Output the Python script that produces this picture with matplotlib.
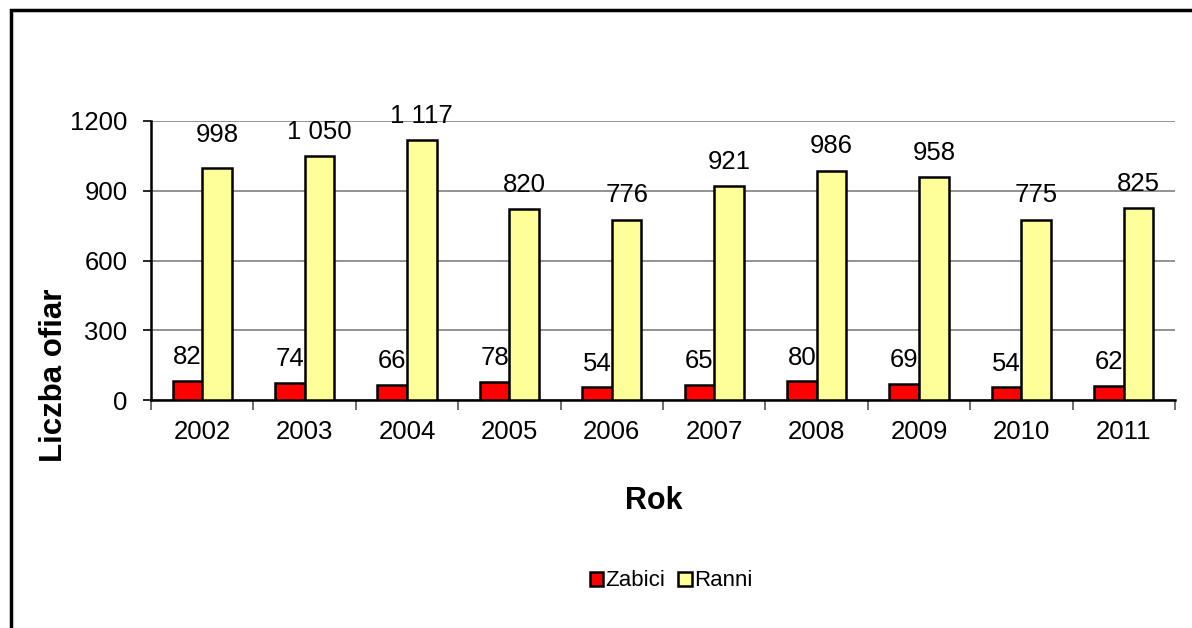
import matplotlib
matplotlib.use("Agg")
import matplotlib.pyplot as plt
import numpy as np
from matplotlib.patches import Rectangle

years = ["2002", "2003", "2004", "2005", "2006", "2007", "2008", "2009", "2010", "2011"]
zabici = [82, 74, 66, 78, 54, 65, 80, 69, 54, 62]
ranni = [998, 1050, 1117, 820, 776, 921, 986, 958, 775, 825]
ranni_labels = ["998", "1 050", "1 117", "820", "776", "921", "986", "958", "775", "825"]
yticks = [0, 300, 600, 900, 1200]

# label offsets in points (style); the first Ranni label sits a bit higher in the original
ranni_label_offsets = [18.5, 12.5, 12.5, 12.5, 12.5, 12.5, 12.5, 12.5, 12.5, 12.5]
zabici_label_offset = 12.0

plt.rcParams['font.family'] = ['Liberation Sans', 'DejaVu Sans']

W, H = 1192, 628
fig = plt.figure(figsize=(W / 100, H / 100), dpi=100)
ax = fig.add_axes([151 / W, 1 - 400 / H, (1175 - 151) / W, (400 - 121) / H])

FS = 18.5
x = np.arange(len(years))
bw = 0.29
ax.bar(x - bw / 2, zabici, bw, color="#ff0000", edgecolor="black", linewidth=1.8, zorder=3)
ax.bar(x + bw / 2, ranni, bw, color="#ffff99", edgecolor="black", linewidth=1.8, zorder=3)

for xi, v in zip(x, zabici):
    ax.annotate(str(v), (xi - bw / 2, v), xytext=(0, zabici_label_offset), textcoords="offset points",
                ha="center", va="baseline", fontsize=FS)
for xi, v, lab, off in zip(x, ranni, ranni_labels, ranni_label_offsets):
    ax.annotate(lab, (xi + bw / 2, v), xytext=(0, off), textcoords="offset points",
                ha="center", va="baseline", fontsize=FS)

ax.set_xlim(-0.5, len(years) - 0.5)
ax.set_ylim(0, 1200)
ax.set_yticks(yticks)
ax.set_yticklabels([str(t) for t in yticks], fontsize=FS)
ax.set_xticks(x)
ax.set_xticklabels(years, fontsize=FS)
ax.tick_params(axis="x", length=0, pad=14.5)
ax.set_xticks(np.arange(-0.5, len(years)), minor=True)
ax.tick_params(axis="x", which="minor", length=7, width=1.2, color="#555555")
ax.tick_params(axis="y", length=6, width=1.2, pad=11)
ax.yaxis.grid(True, color="#808080", linewidth=1.2, zorder=0)
ax.set_axisbelow(True)
for s in ["top", "right"]:
    ax.spines[s].set_visible(False)
ax.spines["left"].set_linewidth(1.8)
ax.spines["bottom"].set_linewidth(1.8)

fig.text(54 / W, 1 - 375 / H, "Liczba ofiar", rotation=90, ha="center", va="center",
         fontsize=22.5, fontweight="bold")
fig.text(654 / W, 1 - 501 / H, "Rok", ha="center", va="center", fontsize=22, fontweight="bold")

handles = [Rectangle((0, 0), 1, 1, facecolor="#ff0000", edgecolor="black", linewidth=1.8),
           Rectangle((0, 0), 1, 1, facecolor="#ffff99", edgecolor="black", linewidth=1.8)]
fig.legend(handles, ["Zabici", "Ranni"], loc="center", bbox_to_anchor=(671 / W, 1 - 581 / H),
           ncol=2, frameon=False, fontsize=16, handlelength=0.6, handleheight=0.6,
           handletextpad=0.1, columnspacing=0.6)

fig.patches.append(Rectangle((11 / W, -0.1), 1.2, 1 - 10 / H + 0.1, transform=fig.transFigure,
                             fill=False, edgecolor="black", linewidth=2.5))

fig.savefig("out.png", dpi=100)
